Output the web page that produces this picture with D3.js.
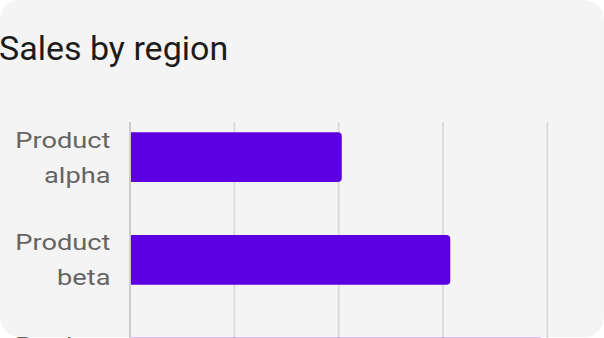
<!DOCTYPE html>
<html lang="en">
<head>
    <meta charset="UTF-8">
    <title>Sales by region</title>
    <script src="https://d3js.org/d3.v7.min.js"></script>
    <style>
        body {
            margin: 0;
            background: #ffffff;
        }
        svg {
            display: block;
            overflow: hidden;
        }
        .title {
            font-family: Roboto, sans-serif;
            font-size: 34px;
            fill: #1c1c1c;
        }
        .label {
            font-family: Roboto, sans-serif;
            font-size: 22.5px;
            fill: #646464;
        }
        .grid line {
            stroke: #dcdcdc;
            stroke-width: 2;
        }
        .bar {
            fill: #5c00e1;
        }
    </style>
</head>
<body>
<script>
    const width = 604;
    const height = 338;

    // data
    const categories = [["Product", "alpha"], ["Product", "beta"], ["Product", "gamma"]];
    const sales = [20.3, 30.7, 39.7];
    const ticks = [0, 10, 20, 30, 40];

    const svg = d3.select("body").append("svg")
            .attr("width", width).attr("height", height);

    // card
    svg.append("rect")
        .attr("x", 0).attr("y", 0)
        .attr("width", width).attr("height", 337)
        .attr("rx", 20)
        .style("fill", "#f4f4f4");

    svg.append("text")
        .attr("class", "title")
        .attr("x", -1).attr("y", 60)
        .text("Sales by region");

    const plotTop = 122;
    const step = 102.7;
    const x = d3.scaleLinear().domain([0, 40]).range([130, 547.3]);
    const y = d3.scaleBand()
        .domain(d3.range(categories.length))
        .range([plotTop, plotTop + step * (categories.length - 0.515 + 0.2)])
        .paddingInner(0.515).paddingOuter(0.1);

    // gridlines
    svg.append("g").attr("class", "grid")
        .selectAll("line")
        .data(ticks.slice(1))
        .enter().append("line")
        .attr("x1", d => x(d)).attr("x2", d => x(d))
        .attr("y1", plotTop).attr("y2", height + 50);

    // bars, rounded at the right end only
    const r = 4;
    svg.selectAll("path.bar")
        .data(sales)
        .enter().append("path")
        .attr("class", "bar")
        .attr("d", (d, i) => {
            const x0 = x(0), x1 = x(d), y0 = y(i), h = y.bandwidth();
            const p = d3.path();
            p.moveTo(x0, y0);
            p.lineTo(x1 - r, y0);
            p.arcTo(x1, y0, x1, y0 + r, r);
            p.lineTo(x1, y0 + h - r);
            p.arcTo(x1, y0 + h, x1 - r, y0 + h, r);
            p.lineTo(x0, y0 + h);
            p.closePath();
            return p.toString();
        });

    // baseline axis
    svg.append("line")
        .attr("x1", x(0)).attr("x2", x(0))
        .attr("y1", plotTop).attr("y2", height + 50)
        .style("stroke", "#cccccc").style("stroke-width", 2);

    // category labels, two lines each, glyphs drawn wide like the original
    const labels = svg.selectAll("text.label")
        .data(categories)
        .enter().append("text")
        .attr("class", "label")
        .attr("text-anchor", "end")
        .attr("transform", (d, i) => `translate(110.5, ${y(i) + y.bandwidth() / 2}) scale(1.21, 1)`);

    labels.selectAll("tspan")
        .data(d => d)
        .enter().append("tspan")
        .attr("x", 0)
        .attr("y", (d, j) => (j - 0.5) * 35)
        .attr("dy", "0.35em")
        .text(d => d);
</script>
</body>
</html>
